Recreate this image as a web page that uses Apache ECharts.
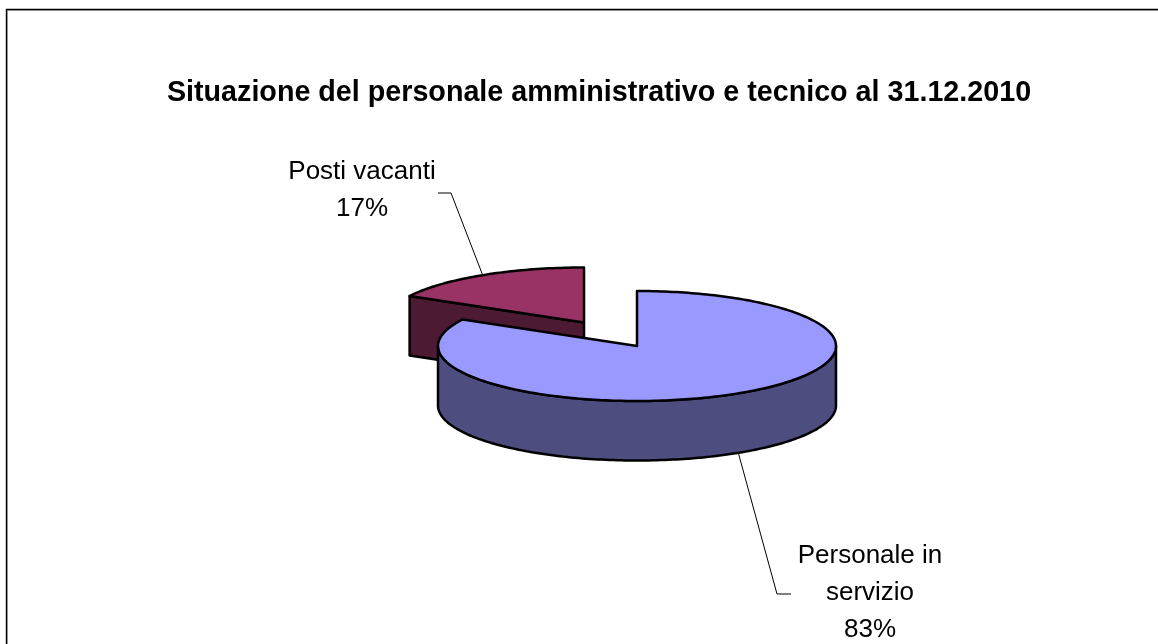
<!DOCTYPE html>
<html>
<head>
<meta charset="utf-8">
<style>html,body{margin:0;padding:0;background:#fff}#c{width:1158px;height:644px}</style>
<script src="https://cdn.jsdelivr.net/npm/echarts@6/dist/echarts.min.js"></script>
</head>
<body>
<div id="c"></div>
<script>
const chartTitle = 'Situazione del personale amministrativo e tecnico al 31.12.2010';
const categories = ['Personale in servizio', 'Posti vacanti'];
const labelLines = [['Personale in', 'servizio'], ['Posti vacanti']];
const values = [83, 17];
const topColors = ['#9999FF', '#993366'];
const sideColors = ['#4D4D80', '#4D1A33'];

// layout of the tilted pie
const RX = 199, RY = 55, DEPTH = 59.5;
const centers = [[637, 346], [584, 322.5]];
const labelPos = [[870, 556], [362, 172]];
const leaderElbow = [[[777, 594], [791, 594]], [[451, 193], [438, 193]]];
const LINE_H = 37;

const total = values.reduce((a, b) => a + b, 0);
const TAU = Math.PI * 2;

function pt(c, a, dy) {
  return [c[0] + RX * Math.sin(a), c[1] - RY * Math.cos(a) + (dy || 0)];
}
function arc(c, a0, a1, dy) {
  const pts = [], n = Math.max(2, Math.ceil(Math.abs(a1 - a0) / 0.02));
  for (let i = 0; i <= n; i++) pts.push(pt(c, a0 + (a1 - a0) * i / n, dy));
  return pts;
}
const edge = { stroke: '#000', lineWidth: 2.5, lineJoin: 'round' };

function renderItem(params, api) {
  const i = params.dataIndex;
  const v = api.value(0);
  let before = 0;
  for (let k = 0; k < i; k++) before += values[k];
  const a0 = before / total * TAU;
  const a1 = (before + v) / total * TAU;
  const mid = (a0 + a1) / 2;
  const c = centers[i];
  const z = i === 0 ? 10 : 0;
  const kids = [];
  // outer visible wall (front half of the rim)
  const f0 = Math.max(a0, Math.PI / 2), f1 = Math.min(a1, Math.PI * 1.5);
  if (f1 > f0) {
    const rim = arc(c, f0, f1, 0).concat(arc(c, f1, f0, DEPTH));
    kids.push({ type: 'polygon', shape: { points: rim }, z2: z + 1,
      style: Object.assign({ fill: sideColors[i] }, edge) });
  }
  // cut wall facing the viewer
  const cut = pt(c, a0), lowCut = pt(c, a0, DEPTH), lowC = [c[0], c[1] + DEPTH];
  if (Math.cos(a0) < 0 || a0 > Math.PI * 1.5) {
    kids.push({ type: 'polygon', shape: { points: [c, cut, lowCut, lowC] }, z2: z + 1,
      style: Object.assign({ fill: sideColors[i] }, edge) });
  }
  // top face
  kids.push({ type: 'polygon', shape: { points: [c].concat(arc(c, a0, a1, 0)) }, z2: z + 2,
    style: Object.assign({ fill: topColors[i] }, edge) });
  // leader line from rim at slice's mid angle
  const onFront = Math.cos(mid) < 0 && Math.sin(mid) !== 0;
  const start = pt(c, mid, onFront ? DEPTH : 0);
  kids.push({ type: 'polyline', shape: { points: [start].concat(leaderElbow[i]) }, z2: 30,
    style: { stroke: '#000', lineWidth: 1, fill: null } });
  // label
  const pct = Math.round(v / total * 100) + '%';
  const lines = labelLines[i].concat(pct);
  lines.forEach((t, k) => {
    kids.push({ type: 'text', z2: 30, x: labelPos[i][0], y: labelPos[i][1] + k * LINE_H,
      style: { text: t, align: 'center', verticalAlign: 'middle', fill: '#000',
        font: '26px "Liberation Sans", Arial, sans-serif' } });
  });
  return { type: 'group', children: kids };
}

const chart = echarts.init(document.getElementById('c'), null, { renderer: 'canvas' });
chart.setOption({
  animation: false,
  backgroundColor: '#fff',
  title: {
    text: chartTitle, left: 594, top: 74, textAlign: 'center',
    textStyle: { fontFamily: '"Liberation Sans", Arial, sans-serif', fontWeight: 'bold', fontSize: 28.7, color: '#000' }
  },
  graphic: [
    { type: 'line', z: 1, shape: { x1: 6, y1: 10.5, x2: 1158, y2: 10.5 }, style: { stroke: '#bbb', lineWidth: 1 } },
    { type: 'line', z: 1, shape: { x1: 7.5, y1: 9, x2: 7.5, y2: 644 }, style: { stroke: '#bbb', lineWidth: 1 } },
    { type: 'line', z: 2, shape: { x1: 6, y1: 9.5, x2: 1158, y2: 9.5 }, style: { stroke: '#000', lineWidth: 1.4 } },
    { type: 'line', z: 2, shape: { x1: 6.5, y1: 9, x2: 6.5, y2: 644 }, style: { stroke: '#000', lineWidth: 1.4 } }
  ],
  series: [{
    type: 'custom',
    coordinateSystem: 'none',
    renderItem: renderItem,
    data: categories.map((n, i) => ({ name: n, value: [values[i]] }))
  }]
});
</script>
</body>
</html>
